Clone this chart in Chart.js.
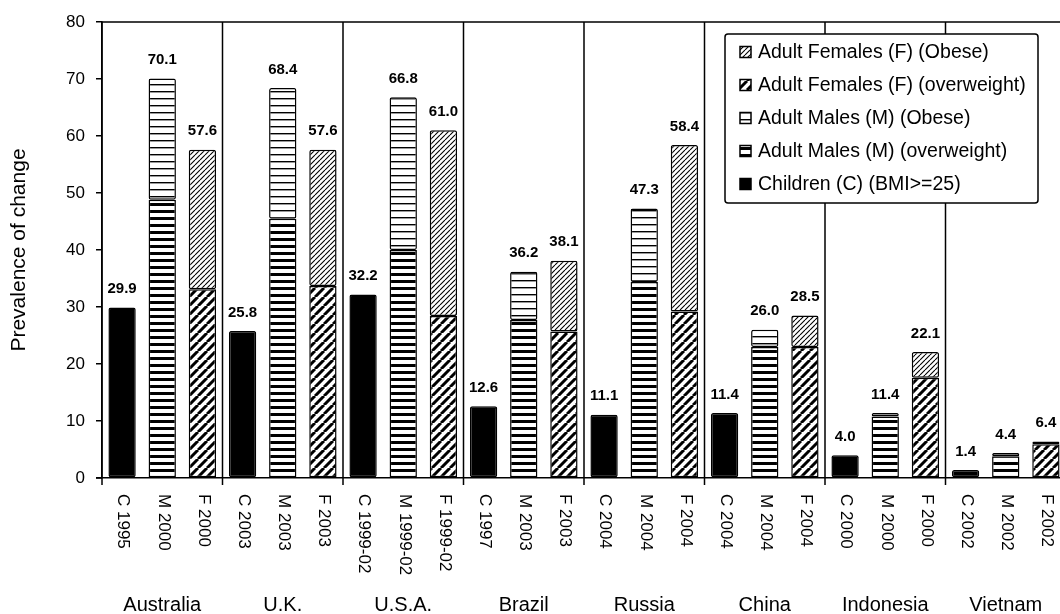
<!DOCTYPE html>
<html>
<head>
<meta charset="utf-8">
<script src="https://cdn.jsdelivr.net/npm/chart.js@4"></script>
<style>
  html, body { margin: 0; padding: 0; background: #fff; overflow: hidden; }
  #wrap { width: 1068px; height: 614px; position: relative; }
</style>
</head>
<body>
<div id="wrap"><canvas id="chart"></canvas></div>
<script>
const countries = ['Australia', 'U.K.', 'U.S.A.', 'Brazil', 'Russia', 'China', 'Indonesia', 'Vietnam'];
const tickLabels = [
    'C 1995', 'M 2000', 'F 2000',
    'C 2003', 'M 2003', 'F 2003',
    'C 1999-02', 'M 1999-02', 'F 1999-02',
    'C 1997', 'M 2003', 'F 2003',
    'C 2004', 'M 2004', 'F 2004',
    'C 2004', 'M 2004', 'F 2004',
    'C 2000', 'M 2000', 'F 2000',
    'C 2002', 'M 2002', 'F 2002'
];

// one value per country
const children = [29.9, 25.8, 32.2, 12.6, 11.1, 11.4, 4.0, 1.4];
const maleOverweight = [48.8, 45.5, 40.0, 27.7, 34.4, 23.0, 10.8, 3.8];
const maleObese = [21.3, 22.9, 26.8, 8.5, 12.9, 3.0, 0.6, 0.6];
const femaleOverweight = [33.1, 33.7, 28.4, 25.7, 29.2, 23.0, 17.6, 5.9];
const femaleObese = [24.5, 23.9, 32.6, 12.4, 29.2, 5.5, 4.5, 0.5];

// printed totals above bars
const maleTotal = [70.1, 68.4, 66.8, 36.2, 47.3, 26.0, 11.4, 4.4];
const femaleTotal = [57.6, 57.6, 61.0, 38.1, 58.4, 28.5, 22.1, 6.4];

const yTicks = [0, 10, 20, 30, 40, 50, 60, 70, 80];

const FONT = '"Liberation Sans", Arial, sans-serif';

// put a country value at slot 0 (C), 1 (M) or 2 (F) of its group
function spread(values, slot) {
    const out = [];
    values.forEach(v => {
        for (let s = 0; s < 3; s++) out.push(s === slot ? v : null);
    });
    return out;
}

function tile(w, h, draw) {
    const c = document.createElement('canvas');
    c.width = w; c.height = h;
    const g = c.getContext('2d');
    g.fillStyle = '#fff';
    g.fillRect(0, 0, w, h);
    g.fillStyle = '#000';
    g.strokeStyle = '#000';
    draw(g, w, h);
    return document.createElement('canvas').getContext('2d').createPattern(c, 'repeat');
}

function hLines(period, thick) {
    return tile(8, period, (g, w) => g.fillRect(0, 0, w, thick));
}

function diag(period, lw) {
    return tile(period, period, (g, p) => {
        g.lineWidth = lw;
        g.beginPath();
        [-p, 0, p].forEach(k => { g.moveTo(k, p); g.lineTo(k + p, 0); });
        g.stroke();
    });
}

const patMaleOver = hLines(7, 3);
const patMaleObese = hLines(7, 1.4);
const patFemOver = diag(9, 3);
const patFemObese = diag(5, 1.1);

const totals = spread(children, 0).map((v, i) => {
    const g = Math.floor(i / 3), s = i % 3;
    return s === 0 ? children[g] : s === 1 ? maleTotal[g] : femaleTotal[g];
});

const legendItems = [
    { text: 'Adult Females (F) (Obese)', fill: patFemObese },
    { text: 'Adult Females (F) (overweight)', fill: patFemOver },
    { text: 'Adult Males (M) (Obese)', fill: patMaleObese },
    { text: 'Adult Males (M) (overweight)', fill: patMaleOver },
    { text: 'Children (C) (BMI>=25)', fill: '#000' }
];

const decor = {
    id: 'decor',
    afterDraw(chart) {
        const { ctx, chartArea: { left, top, right, bottom }, scales: { x, y } } = chart;
        ctx.save();
        ctx.strokeStyle = '#000';
        ctx.lineWidth = 1.5;

        // top frame line and left extension of x axis
        ctx.beginPath();
        ctx.moveTo(left, top); ctx.lineTo(right, top);
        ctx.moveTo(left - 6, bottom); ctx.lineTo(left, bottom);
        ctx.stroke();

        // group dividers
        ctx.beginPath();
        for (let g = 0; g <= countries.length; g++) {
            let px;
            if (g === 0) px = left;
            else if (g === countries.length) px = right;
            else px = (x.getPixelForValue(g * 3 - 1) + x.getPixelForValue(g * 3)) / 2;
            ctx.moveTo(px, top); ctx.lineTo(px, bottom + 7);
        }
        ctx.stroke();

        // value labels
        ctx.fillStyle = '#000';
        ctx.font = 'bold 15px ' + FONT;
        ctx.textAlign = 'center';
        ctx.textBaseline = 'bottom';
        totals.forEach((v, i) => {
            ctx.fillText(v.toFixed(1), x.getPixelForValue(i), y.getPixelForValue(v) - 11);
        });

        // rotated category labels (reading downward)
        ctx.font = '17px ' + FONT;
        ctx.textAlign = 'left';
        ctx.textBaseline = 'middle';
        tickLabels.forEach((t, i) => {
            ctx.save();
            ctx.translate(x.getPixelForValue(i) + 1, bottom + 16);
            ctx.rotate(Math.PI / 2);
            ctx.fillText(t, 0, 0);
            ctx.restore();
        });

        // country names
        ctx.font = '20px ' + FONT;
        ctx.textAlign = 'center';
        ctx.textBaseline = 'alphabetic';
        countries.forEach((c, g) => {
            ctx.fillText(c, x.getPixelForValue(g * 3 + 1), 611);
        });

        // legend box
        const bx = 725, by = 34, bw = 313, bh = 169;
        ctx.fillStyle = '#fff';
        ctx.beginPath();
        ctx.roundRect(bx, by, bw, bh, 3);
        ctx.fill();
        ctx.stroke();
        ctx.font = '19.5px ' + FONT;
        ctx.textAlign = 'left';
        ctx.textBaseline = 'middle';
        legendItems.forEach((it, k) => {
            const cy = 52 + k * 33;
            ctx.fillStyle = it.fill;
            ctx.fillRect(740, cy - 5.5, 11, 11);
            ctx.lineWidth = 1.5;
            ctx.strokeRect(740, cy - 5.5, 11, 11);
            ctx.fillStyle = '#000';
            ctx.fillText(it.text, 758, cy + 1);
        });
        ctx.restore();
    }
};

const barStyle = { borderColor: '#000', borderWidth: 1.5, borderRadius: 2, borderSkipped: false, barPercentage: 0.68, categoryPercentage: 1.0 };

new Chart(document.getElementById('chart').getContext('2d'), {
    type: 'bar',
    data: {
        labels: tickLabels,
        datasets: [
            { label: 'Children (C) (BMI>=25)', data: spread(children, 0), backgroundColor: '#000', ...barStyle },
            { label: 'Adult Males (M) (overweight)', data: spread(maleOverweight, 1), backgroundColor: patMaleOver, ...barStyle },
            { label: 'Adult Males (M) (Obese)', data: spread(maleObese, 1), backgroundColor: patMaleObese, ...barStyle },
            { label: 'Adult Females (F) (overweight)', data: spread(femaleOverweight, 2), backgroundColor: patFemOver, ...barStyle },
            { label: 'Adult Females (F) (Obese)', data: spread(femaleObese, 2), backgroundColor: patFemObese, ...barStyle }
        ]
    },
    options: {
        responsive: true,
        maintainAspectRatio: false,
        animation: false,
        layout: { padding: { top: 22, right: 2, left: 0, bottom: 0 } },
        plugins: { legend: { display: false }, tooltip: { enabled: false } },
        scales: {
            x: {
                stacked: true,
                ticks: { display: false },
                grid: { display: true, drawOnChartArea: false, drawTicks: false },
                border: { display: true, color: '#000', width: 1.5 },
                afterFit: s => { s.height = 136; }
            },
            y: {
                stacked: true,
                min: 0,
                max: 80,
                afterBuildTicks: s => { s.ticks = yTicks.map(v => ({ value: v })); },
                ticks: { color: '#000', font: { family: FONT, size: 17 }, padding: 11 },
                grid: { drawOnChartArea: false, drawTicks: true, tickLength: 6, color: '#000', lineWidth: 1.5 },
                border: { display: true, color: '#000', width: 1.5 },
                title: { display: true, text: 'Prevalence of change', color: '#000', font: { family: FONT, size: 21 }, padding: { top: 7, bottom: 0 } },
                afterFit: s => { s.width = 102; }
            }
        }
    },
    plugins: [decor]
});
</script>
</body>
</html>
